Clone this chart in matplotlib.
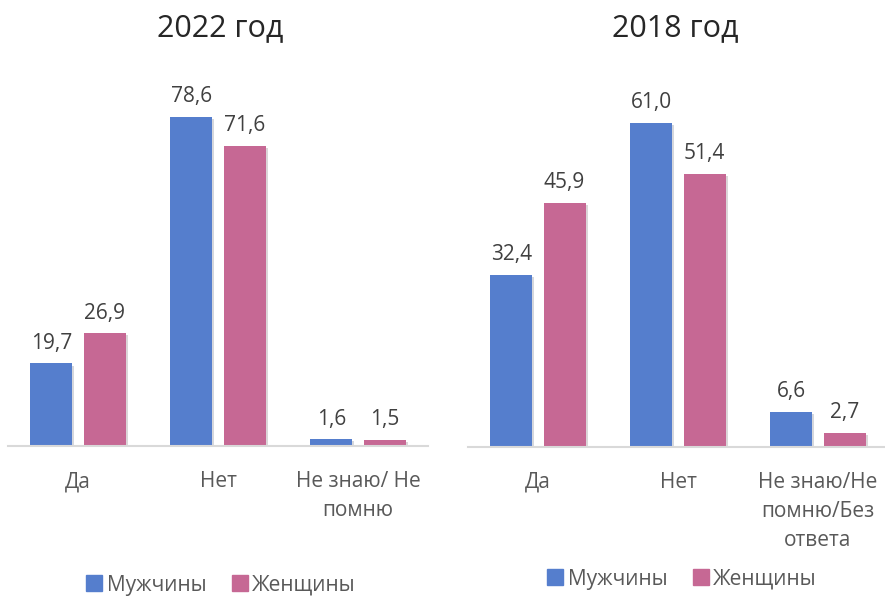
import matplotlib

matplotlib.use("Agg")
import matplotlib.pyplot as plt
import matplotlib.patheffects as pe
import numpy as np
from matplotlib.lines import Line2D

plt.rcParams["font.family"] = ["Open Sans", "DejaVu Sans"]

SERIES = ["Мужчины", "Женщины"]

CATS_2022 = ["Да", "Нет", "Не знаю/ Не\nпомню"]
MEN_2022 = [19.7, 78.6, 1.6]
WOMEN_2022 = [26.9, 71.6, 1.5]

CATS_2018 = ["Да", "Нет", "Не знаю/Не\nпомню/Без\nответа"]
MEN_2018 = [32.4, 61.0, 6.6]
WOMEN_2018 = [45.9, 51.4, 2.7]

BLUE = "#557ECD"
PINK = "#C66894"
LABEL_COLOR = "#404040"
AXIS_TEXT = "#595959"

W, H = 885, 598


def fmt(v):
    return f"{v:.1f}".replace(".", ",")


def draw_panel(ax, title, title_x, cats, men, women, ymax):
    x = np.arange(len(cats))
    shadow = [pe.SimplePatchShadow(offset=(1.5, -1.5), alpha=0.18), pe.Normal()]
    b1 = ax.bar(x - 0.19, men, width=0.3, color=BLUE, path_effects=shadow, zorder=2)
    b2 = ax.bar(x + 0.19, women, width=0.3, color=PINK, path_effects=shadow, zorder=2)
    for bars, vals in ((b1, men), (b2, women)):
        ax.bar_label(bars, labels=[fmt(v) for v in vals], padding=7,
                     fontsize=15, color=LABEL_COLOR)

    ax.set_xlim(-0.5, len(cats) - 0.5)
    ax.set_ylim(0, ymax)
    ax.set_xticks(x)
    ax.set_xticklabels(cats, fontsize=15, color=AXIS_TEXT)
    for lbl in ax.get_xticklabels():
        lbl.set_linespacing(1.5)
    ax.tick_params(axis="x", length=0, pad=18)
    ax.set_yticks([])
    for side in ["top", "left", "right"]:
        ax.spines[side].set_visible(False)
    ax.spines["bottom"].set_color("#D9D9D9")
    ax.spines["bottom"].set_linewidth(1.5)

    fig = ax.figure
    fig.text(title_x, 0.953, title, ha="center", va="center",
             fontsize=22, color="#262626")


fig = plt.figure(figsize=(W / 100, H / 100), dpi=100)

ax1 = fig.add_axes([8 / W, 1 - 446 / H, 420 / W, 0.6025])
draw_panel(ax1, "2022 год", 220 / W, CATS_2022, MEN_2022, WOMEN_2022, 86)

ax2 = fig.add_axes([468 / W, 1 - 447 / H, 420 / W, 0.607])
draw_panel(ax2, "2018 год", 675 / W, CATS_2018, MEN_2018, WOMEN_2018, 68.3)

handles = [
    Line2D([], [], marker="s", linestyle="none", markersize=11, color=BLUE),
    Line2D([], [], marker="s", linestyle="none", markersize=11, color=PINK),
]
for cx, cy in ((222 / W, 1 - 585 / H), (683 / W, 1 - 579 / H)):
    leg = fig.legend(handles, SERIES, loc="center", bbox_to_anchor=(cx, cy),
                     ncol=2, frameon=False, fontsize=15, handlelength=0.6,
                     handletextpad=0.3, columnspacing=1.3, borderpad=0)
    for t in leg.get_texts():
        t.set_color(AXIS_TEXT)

fig.savefig("out.png", dpi=100)
